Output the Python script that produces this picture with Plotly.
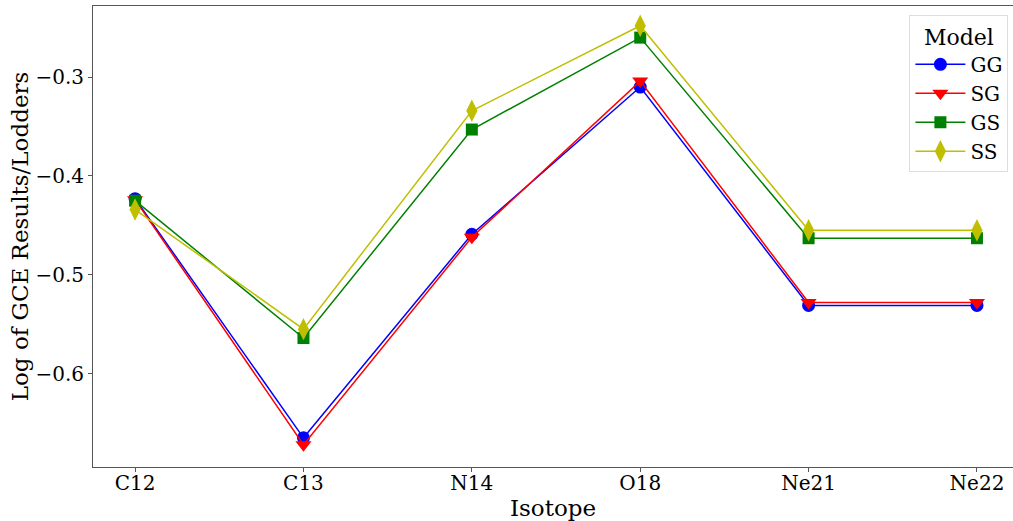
import plotly.graph_objects as go

isotopes = ["C12", "C13", "N14", "O18", "Ne21", "Ne22"]
gg = [-0.423, -0.665, -0.459, -0.310, -0.531, -0.531]
sg = [-0.424, -0.672, -0.462, -0.304, -0.528, -0.528]
gs = [-0.425, -0.564, -0.353, -0.260, -0.463, -0.463]
ss = [-0.434, -0.555, -0.334, -0.248, -0.455, -0.455]
y_ticks = [-0.6, -0.5, -0.4, -0.3]
y_tick_text = ["\u22120.6", "\u22120.5", "\u22120.4", "\u22120.3"]

series = [
    ("GG", gg, "#0000ff", "circle", 13),
    ("SG", sg, "#ff0000", "triangle-down", 14),
    ("GS", gs, "#008000", "square", 12),
    ("SS", ss, "#bfbf00", "diamond-tall", 16),
]

fig = go.Figure()
xs = list(range(len(isotopes)))
for name, vals, color, symbol, size in series:
    fig.add_trace(go.Scatter(
        x=xs, y=vals, name=name, mode="lines+markers",
        line=dict(color=color, width=1.5),
        marker=dict(symbol=symbol, size=size, color=color, line=dict(width=0)),
    ))

font = "DejaVu Serif"
fig.update_layout(
    width=1013, height=521,
    margin=dict(l=93, r=0, t=6, b=54),
    paper_bgcolor="white", plot_bgcolor="white",
    font=dict(family=font, size=20, color="black"),
    showlegend=True,
    legend=dict(
        title=dict(text="Model", side="top center", font=dict(size=22)),
        x=0.995, xanchor="right", y=0.98, yanchor="top",
        bgcolor="rgba(255,255,255,0.8)", bordercolor="#dddddd", borderwidth=1,
        font=dict(size=20), itemwidth=50,
    ),
)
fig.update_xaxes(
    range=[-0.25, 5.214], tickvals=xs, ticktext=isotopes,
    showgrid=False, zeroline=False, showline=True, linecolor="#555555", linewidth=1,
    mirror=True, ticks="outside", ticklen=4, tickcolor="#555555",
    tickfont=dict(size=20), ticklabelstandoff=-6,
    title=dict(text="Isotope", font=dict(size=23), standoff=5),
)
fig.update_yaxes(
    range=[-0.6945, -0.228], tickvals=y_ticks, ticktext=y_tick_text,
    showgrid=False, zeroline=False, showline=True, linecolor="#555555", linewidth=1,
    mirror=True, ticks="outside", ticklen=4, tickcolor="#555555",
    tickfont=dict(size=20),
    title=dict(text="Log of GCE Results/Lodders", font=dict(size=23), standoff=0),
)

fig.write_html(
    "out.html",
    config={"displayModeBar": False},
    post_script="document.body.style.margin='0';document.body.style.overflow='hidden';",
)
